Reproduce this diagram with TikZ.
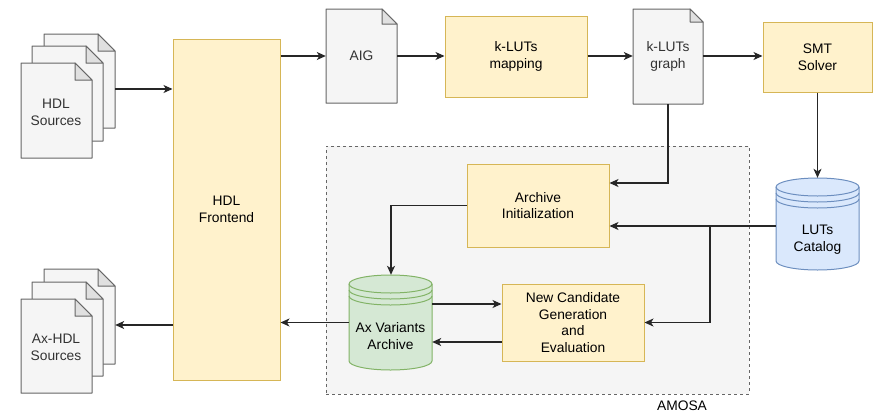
\documentclass[tikz,border=0pt]{standalone}
\usepackage{fontspec}
\setmainfont{Liberation Sans}
\usetikzlibrary{arrows.meta,calc}
\definecolor{yfill}{HTML}{FFF2CC}
\definecolor{ydraw}{HTML}{D6B656}
\definecolor{gfill}{HTML}{F5F5F5}
\definecolor{gdraw}{HTML}{666666}
\definecolor{gfold}{HTML}{E0E0E0}
\definecolor{bfill}{HTML}{DAE8FC}
\definecolor{bdraw}{HTML}{6C8EBF}
\definecolor{grfill}{HTML}{D5E8D4}
\definecolor{grdraw}{HTML}{82B366}
\definecolor{txt}{HTML}{333333}
\newcommand{\docshape}[5]{%
  \filldraw[fill=gfill,draw=gdraw,line width=1pt,line join=round] (#1,#2) -- (#3-#5,#2) -- (#3,#2+#5) -- (#3,#4) -- (#1,#4) -- cycle;
  \filldraw[fill=gfold,draw=gdraw,line width=1pt,line join=round] (#3-#5,#2) -- (#3-#5,#2+#5) -- (#3,#2+#5) -- cycle;}
% datastore: x1 y1 x2 y2 fill draw
\newcommand{\datastore}[6]{%
  \pgfmathsetmacro{\rx}{(#3-#1)/2}\pgfmathsetmacro{\cx}{(#1+#3)/2}
  \filldraw[fill=#5,draw=#6,line width=1pt] (#1,#2+9) -- (#1,#4-9) arc (180:360:\rx pt and 9pt) -- (#3,#2+9) arc (0:180:\rx pt and 9pt) -- cycle;
  \draw[draw=#6,line width=1pt] (#1,#2+9) arc (180:360:\rx pt and 9pt);
  \draw[draw=#6,line width=1pt] (#1,#2+15) arc (180:360:\rx pt and 9pt);
  \draw[draw=#6,line width=1pt] (#1,#2+21) arc (180:360:\rx pt and 9pt);}
\tikzset{
  proc/.style={draw=ydraw,fill=yfill,line width=1pt,inner sep=0pt,align=center,font=\fontsize{13.8}{16.7}\selectfont},
  lbl/.style={inner sep=0pt,align=center,font=\fontsize{13.8}{16.7}\selectfont},
  arr/.style={draw=black!85,line width=1.1pt,-{Stealth[length=9pt,width=8pt,inset=2.5pt]}},
}
\begin{document}
\begin{tikzpicture}[x=1pt,y=-1pt]
\useasboundingbox (0,0) rectangle (879,413);
% AMOSA container
\node[draw=gdraw,fill=gfill,dashed,line width=0.8pt,minimum width=423pt,minimum height=248pt,inner sep=0pt] (amosa) at (537.5,270) {};
\node[lbl] (amosalbl) at (682,406) {AMOSA};
% HDL sources stack
\docshape{44}{34}{115}{128}{17}
\docshape{32}{46}{103}{141}{17}
\docshape{21}{63}{92}{158}{17}
\node[minimum width=71pt,minimum height=94pt,inner sep=0pt] (src3) at (79.5,81) {};
\node[lbl,text=txt] (src) at (56,112) {HDL\\Sources};
% Ax-HDL sources stack
\docshape{44}{269}{115}{364}{17}
\docshape{32}{282}{103}{376}{17}
\docshape{21}{299}{92}{393}{17}
\node[minimum width=71pt,minimum height=95pt,inner sep=0pt] (ax3) at (79.5,316.5) {};
\node[lbl,text=txt] (ax) at (56,347) {Ax-HDL\\Sources};
% HDL frontend
\node[proc,minimum width=107pt,minimum height=341pt] (fe) at (226.5,209.5) {HDL\\Frontend};
% AIG
\docshape{326}{9}{397}{103}{15}
\node[lbl,text=txt,minimum width=71pt,minimum height=94pt] (aig) at (361.5,56) {AIG};
% k-LUTs mapping
\node[proc,minimum width=142pt,minimum height=81pt] (map) at (516,56.5) {k-LUTs\\mapping};
% k-LUTs graph
\docshape{633}{9}{703}{104}{13}
\node[lbl,text=txt,minimum width=70pt,minimum height=95pt] (graph) at (668,56.5) {k-LUTs\\graph};
% SMT Solver
\node[proc,minimum width=109pt,minimum height=70pt] (smt) at (817.5,57) {SMT\\Solver};
% LUTs catalog
\datastore{776}{178}{859}{270}{bfill}{bdraw}
\node[minimum width=83pt,minimum height=92pt,inner sep=0pt] (cat) at (817.5,224) {};
\node[lbl] (catl) at (817.5,240) {LUTs\\Catalog};
% Archive initialization
\node[proc,minimum width=142pt,minimum height=83pt] (init) at (538,205.5) {Archive\\Initialization};
% Ax variants archive
\datastore{349}{275}{432}{370}{grfill}{grdraw}
\node[minimum width=83pt,minimum height=95pt,inner sep=0pt] (arch) at (390.5,322.5) {};
\node[lbl] (archl) at (390.5,336) {Ax Variants\\Archive};
% New candidate
\node[proc,minimum width=142pt,minimum height=77pt] (nc) at (573,322.5) {New Candidate\\Generation\\and\\Evaluation};
% connectors
\draw[arr] (src3.east |- 0,89) -- (fe.west |- 0,89);
\draw[arr] (fe.west |- 0,325) -- (ax3.east |- 0,325);
\draw[arr] (fe.east |- 0,56) -- (aig.west |- 0,56);
\draw[arr] (aig.east |- 0,56) -- (map.west |- 0,56);
\draw[arr] (map.east |- 0,56) -- (graph.west |- 0,56);
\draw[arr] (graph.east |- 0,56) -- (smt.west |- 0,56);
\draw[arr] (smt.south) -- (cat.north);
\draw[arr] (graph.south) |- (init.east |- 0,183);
\draw[arr] (cat.west |- 0,226) -- (init.east |- 0,226);
\coordinate (jn) at (710,226);
\draw[arr] (jn) |- (nc.east);
\draw[arr] (init.west) -| (arch.north -| 391,0);
\draw[arr] (arch.east |- 0,304) -- (nc.west |- 0,304);
\draw[arr] (nc.west |- 0,342) -- (arch.east |- 0,342);
\draw[arr] (arch.west) -- (fe.east |- arch.west);
\end{tikzpicture}
\end{document}
